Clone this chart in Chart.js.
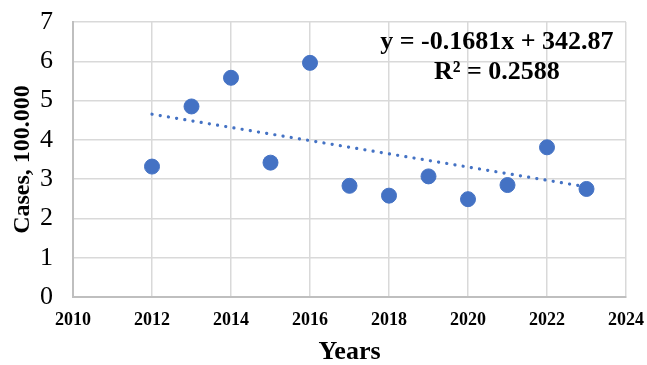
<!DOCTYPE html>
<html>
<head>
<meta charset="utf-8">
<script src="https://cdn.jsdelivr.net/npm/chart.js@4"></script>
<style>
  html, body { margin: 0; padding: 0; background: #fff; }
  #wrap { width: 647px; height: 365px; }
</style>
</head>
<body>
<div id="wrap"><canvas id="c" width="647" height="365"></canvas></div>
<script>
// Yearly case counts (in units of 100,000)
const years = [2012, 2013, 2014, 2015, 2016, 2017, 2018, 2019, 2020, 2021, 2022, 2023];
const cases = [3.32, 4.85, 5.58, 3.42, 5.96, 2.83, 2.58, 3.07, 2.49, 2.85, 3.81, 2.75];

// Linear trend fitted to the series
const trendSlope = -0.1681;
const trendIntercept = 342.87;
const trendR2 = 0.2588;
const trendYears = [2012, 2023];

const xTicks = [2010, 2012, 2014, 2016, 2018, 2020, 2022, 2024];
const yTicks = [0, 1, 2, 3, 4, 5, 6, 7];

const pointColor = '#4472C4';
const serif = "'Liberation Serif', 'Times New Roman', serif";

const scatterData = years.map((yr, i) => ({ x: yr, y: cases[i] }));
const trendData = trendYears.map(yr => ({ x: yr, y: trendSlope * yr + trendIntercept }));

const fmtSigned = v => (v < 0 ? '-' : '') + Math.abs(v).toFixed(4);
const equationLines = [
  'y = ' + fmtSigned(trendSlope) + 'x + ' + trendIntercept.toFixed(2),
  'R\u00B2 = ' + trendR2.toFixed(4)
];

// Draws the trendline equation inside the plot area
const equationLabel = {
  id: 'equationLabel',
  afterDatasetsDraw(chart) {
    const { ctx, scales } = chart;
    const cx = scales.x.getPixelForValue(2020.73);
    const y1 = scales.y.getPixelForValue(6.49);
    const y2 = scales.y.getPixelForValue(5.73);
    ctx.save();
    ctx.fillStyle = '#000';
    ctx.font = "bold 26px " + serif;
    ctx.textAlign = 'center';
    ctx.textBaseline = 'middle';
    ctx.fillText(equationLines[0], cx, y1);
    ctx.fillText(equationLines[1], cx, y2);
    ctx.restore();
  }
};

new Chart(document.getElementById('c'), {
  type: 'scatter',
  data: {
    datasets: [
      {
        label: 'Cases',
        data: scatterData,
        backgroundColor: pointColor,
        borderColor: pointColor,
        pointRadius: 7.5,
        pointHoverRadius: 7.5,
        order: 1
      },
      {
        label: 'Linear trend',
        type: 'line',
        data: trendData,
        borderColor: pointColor,
        borderWidth: 3.2,
        borderDash: [0.1, 8.2],
        borderCapStyle: 'round',
        pointRadius: 0,
        fill: false,
        order: 2
      }
    ]
  },
  options: {
    responsive: false,
    animation: false,
    layout: { padding: { top: 22, right: 21, left: 4, bottom: 0 } },
    plugins: {
      legend: { display: false },
      tooltip: { enabled: false }
    },
    scales: {
      x: {
        type: 'linear',
        min: xTicks[0],
        max: xTicks[xTicks.length - 1],
        afterBuildTicks: axis => { axis.ticks = xTicks.map(v => ({ value: v })); },
        afterFit: axis => {
          axis.height = 68;
          axis.paddingLeft = 0;
          axis.paddingRight = 0;
        },
        ticks: {
          color: '#000',
          font: { family: serif, size: 18, weight: 'bold' },
          padding: 13,
          maxRotation: 0,
          callback: v => String(v)
        },
        grid: { color: '#d9d9d9', lineWidth: 1.5, drawTicks: false },
        border: { color: '#bfbfbf', width: 2 },
        title: {
          display: true,
          text: 'Years',
          color: '#000',
          font: { family: serif, size: 26, weight: 'bold' },
          padding: { top: 2, bottom: -3 }
        }
      },
      y: {
        min: yTicks[0],
        max: yTicks[yTicks.length - 1],
        afterBuildTicks: axis => { axis.ticks = yTicks.map(v => ({ value: v })); },
        afterFit: axis => {
          axis.width = 69;
          axis.paddingTop = 0;
          axis.paddingBottom = 0;
        },
        ticks: {
          color: '#000',
          font: { family: serif, size: 26 },
          padding: 20,
          callback: v => String(v)
        },
        grid: { color: '#d9d9d9', lineWidth: 1.5, drawTicks: false },
        border: { color: '#bfbfbf', width: 2 },
        title: {
          display: true,
          text: 'Cases, 100.000',
          color: '#000',
          font: { family: serif, size: 24, weight: 'bold' },
          padding: { top: 4, bottom: 3 }
        }
      }
    }
  },
  plugins: [equationLabel]
});
</script>
</body>
</html>
